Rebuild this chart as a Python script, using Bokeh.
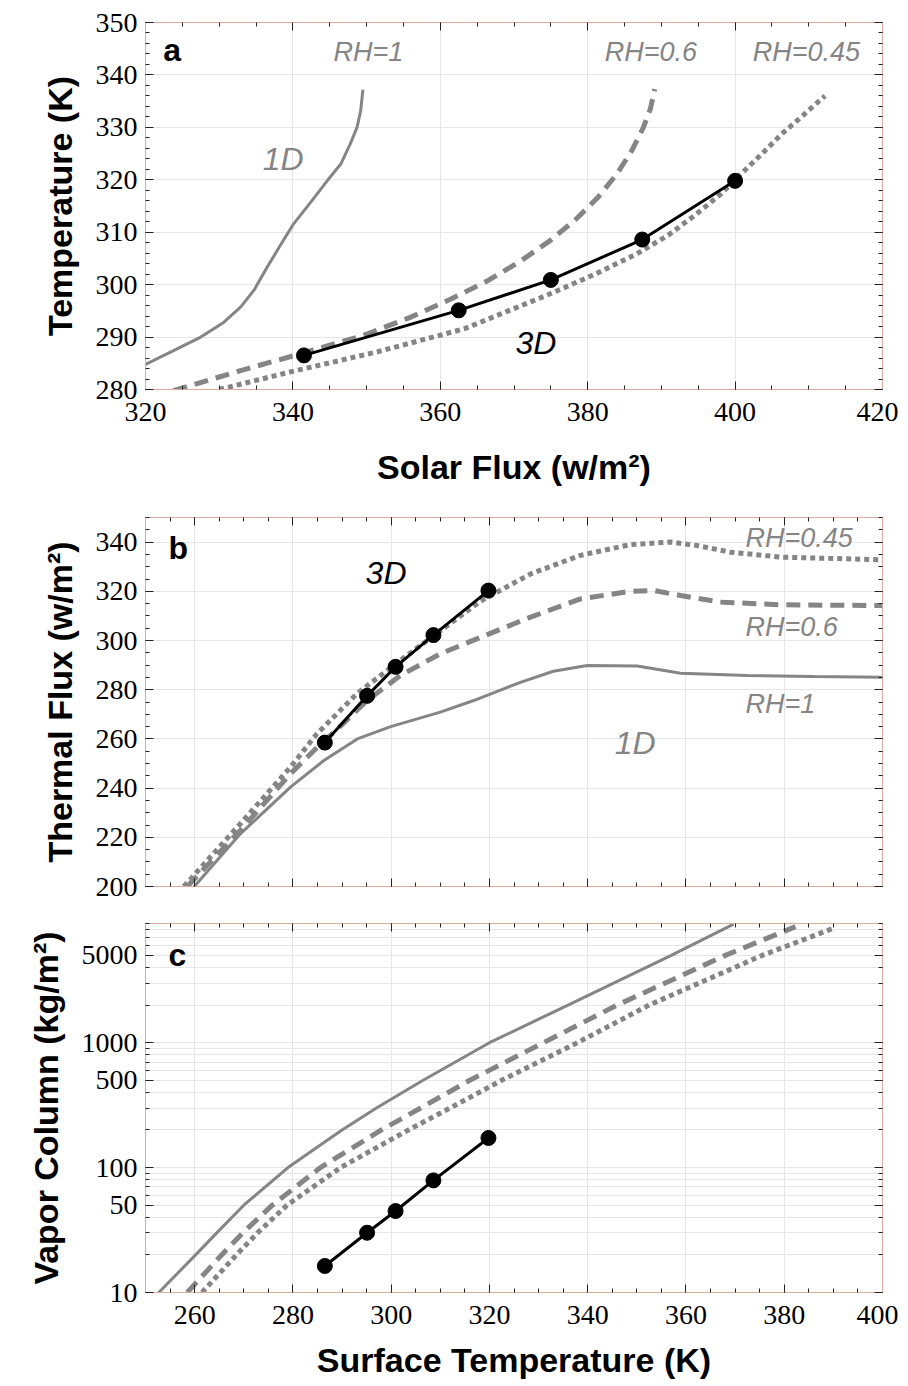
from bokeh.plotting import figure
from bokeh.layouts import column
from bokeh.models import (Range1d, LinearAxis, LogAxis, FixedTicker, Label,
                          NumeralTickFormatter, CustomJSTickFormatter)
from bokeh.embed import file_html
from bokeh.resources import INLINE

# ---------------- data ----------------
# Panel a: surface temperature vs solar flux
a_rh1_flux = [320.0, 323.8, 327.5, 330.6, 332.9, 334.7, 336.5, 338.3, 340.1, 342.4, 344.7, 346.5, 347.8, 348.7, 349.2, 349.5]
a_rh1_temp = [284.8, 287.4, 290.0, 292.8, 295.7, 298.9, 303.3, 307.5, 311.6, 315.7, 319.9, 323.0, 326.9, 330.0, 333.2, 337.2]
a_rh06_flux = [323.8, 332.9, 341.0, 349.5, 356.0, 361.5, 366.5, 371.0, 375.0, 378.5, 381.5, 384.0, 386.0, 387.5, 388.5, 389.1]
a_rh06_temp = [279.8, 283.6, 286.8, 290.3, 293.8, 297.3, 300.8, 304.6, 308.5, 312.6, 316.8, 321.2, 325.6, 329.8, 333.5, 337.3]
a_rh045_flux = [330.0, 339.8, 351.5, 363.3, 375.0, 381.0, 386.7, 391.0, 394.6, 398.0, 400.8, 403.6, 406.3, 409.3, 412.2]
a_rh045_temp = [280.0, 283.4, 287.2, 291.6, 298.3, 302.0, 305.9, 309.5, 313.3, 317.2, 321.1, 324.9, 328.7, 332.4, 336.0]
flux_3d = [341.5, 362.5, 375.0, 387.4, 400.0]
temp_3d = [286.5, 295.1, 300.9, 308.6, 319.8]

# Panel b: thermal flux vs surface temperature
b_rh1_temp = [259.8, 269.3, 279.5, 286.3, 293.1, 299.9, 310.0, 316.8, 326.3, 333.0, 339.9, 350.1, 358.9, 372.5, 386.0, 400.0]
b_rh1_flux = [199.7, 221.4, 240.4, 251.2, 260.0, 265.0, 270.9, 275.6, 283.0, 287.5, 289.8, 289.6, 286.7, 285.8, 285.4, 285.1]
b_rh06_temp = [258.5, 269.3, 279.5, 284.3, 290.0, 295.1, 301.9, 310.0, 318.2, 325.0, 328.4, 338.5, 348.7, 353.5, 358.9, 367.0, 379.2, 400.0]
b_rh06_flux = [200.0, 222.8, 245.8, 255.3, 265.8, 275.6, 285.8, 294.6, 301.3, 306.8, 309.5, 316.9, 320.0, 320.3, 318.3, 315.6, 314.5, 314.2]
b_rh045_temp = [257.8, 269.3, 279.5, 284.9, 293.1, 301.9, 308.7, 318.2, 328.4, 338.5, 348.7, 356.9, 362.3, 369.1, 379.2, 400.0]
b_rh045_flux = [200.0, 225.5, 248.5, 262.1, 278.5, 292.0, 302.0, 316.0, 327.1, 334.6, 339.0, 340.0, 338.6, 335.9, 333.9, 332.8]
thermal_3d = [258.5, 277.5, 289.3, 302.2, 320.3]

# Panel c: vapor column vs surface temperature
c_rh1_temp = [252.7, 260.2, 264.5, 270.0, 279.0, 290.0, 297.0, 306.5, 320.0, 336.0, 357.0, 369.7]
c_rh1_vap = [10.0, 20.0, 30.0, 50.0, 100.0, 200.0, 300.0, 500.0, 1000.0, 2000.0, 5000.0, 8900.0]
c_rh06_temp = [258.5, 265.5, 269.8, 275.8, 285.6, 298.0, 306.0, 316.0, 331.0, 346.0, 368.0, 382.3]
c_rh06_vap = [10.0, 20.0, 30.0, 50.0, 100.0, 200.0, 300.0, 500.0, 1000.0, 2000.0, 5000.0, 8500.0]
c_rh045_temp = [261.5, 268.5, 272.8, 278.8, 289.7, 303.5, 312.0, 322.5, 337.9, 352.5, 375.5, 390.4]
c_rh045_vap = [10.0, 20.0, 30.0, 50.0, 100.0, 200.0, 300.0, 500.0, 1000.0, 2000.0, 5000.0, 8350.0]
vapor_3d = [16.3, 30.1, 44.9, 79.0, 172.6]

# ticks
a_xticks = [320, 340, 360, 380, 400, 420]
a_yticks = [280, 290, 300, 310, 320, 330, 340, 350]
bc_xticks = [260, 280, 300, 320, 340, 360, 380, 400]
b_yticks = [200, 220, 240, 260, 280, 300, 320, 340]
c_yticks = [10, 50, 100, 500, 1000, 5000]

# ---------------- style ----------------
GRAY = "#858585"
FRAME = "#d9aca2"
GRID = "#e6e6e6"
TICKF = "Liberation Serif"
TITLEF = "Liberation Sans"


def lin_minor(lo, hi, step):
    out = []
    v = lo
    while v <= hi + 1e-9:
        out.append(round(v, 6))
        v += step
    return out


def log_minor():
    out = []
    for d in [10, 100, 1000]:
        for k in range(1, 10):
            out.append(d * k)
    return out


def style_axis(ax, labels=True, title=None):
    ax.major_tick_in = 8
    ax.major_tick_out = 0
    ax.minor_tick_in = 4
    ax.minor_tick_out = 0
    ax.major_tick_line_color = "#222222"
    ax.minor_tick_line_color = "#222222"
    ax.axis_line_color = FRAME
    if labels:
        ax.major_label_text_font = TICKF
        ax.major_label_text_font_size = "28px"
        ax.major_label_text_color = "black"
        ax.major_label_standoff = 8
    else:
        ax.formatter = CustomJSTickFormatter(code="return ''")
        ax.major_label_text_font_size = "1px"
        ax.major_label_standoff = 0
    if title:
        ax.axis_label = title
        ax.axis_label_text_font = TITLEF
        ax.axis_label_text_font_style = "bold"
        ax.axis_label_text_font_size = "34px"
        ax.axis_label_text_color = "black"
        ax.axis_label_standoff = 14


def make_fig(h, bt, bb, xr, yr, log=False):
    p = figure(width=898, height=h, x_range=xr, y_range=yr,
               y_axis_type="log" if log else "linear",
               output_backend="svg", toolbar_location=None,
               min_border_left=145, min_border_right=16,
               min_border_top=bt, min_border_bottom=bb)
    p.outline_line_color = FRAME
    p.outline_line_width = 1
    p.background_fill_color = "white"
    p.border_fill_color = "white"
    p.xgrid.grid_line_color = GRID
    p.ygrid.grid_line_color = GRID
    return p


def add_mirrors(p, xt, xminor, yt, yminor, log=False):
    top = LinearAxis(ticker=FixedTicker(ticks=xt, minor_ticks=xminor))
    style_axis(top, labels=False)
    p.add_layout(top, "above")
    if log:
        right = LogAxis(ticker=FixedTicker(ticks=yt, minor_ticks=yminor))
    else:
        right = LinearAxis(ticker=FixedTicker(ticks=yt, minor_ticks=yminor))
    style_axis(right, labels=False)
    p.add_layout(right, "right")


def label(p, x, y, text, size, color, style="italic"):
    p.add_layout(Label(x=x, y=y, text=text, text_font=TITLEF, text_font_style=style,
                       text_font_size=size, text_color=color,
                       text_baseline="middle", text_align="left"))


def draw(p, x1, y1, x2, y2, x3, y3, x4, y4):
    p.line(x1, y1, line_color=GRAY, line_width=3)
    p.line(x2, y2, line_color=GRAY, line_width=5, line_dash="14 8")
    p.line(x3, y3, line_color=GRAY, line_width=5, line_dash="5 4")
    p.line(x4, y4, line_color="black", line_width=3)
    p.scatter(x4, y4, size=15, color="black")


# ---------------- panel a ----------------
pa = make_fig(497, 22, 108, Range1d(320, 420), Range1d(280, 350))
pa.xaxis.ticker = FixedTicker(ticks=a_xticks, minor_ticks=lin_minor(320, 420, 5))
pa.yaxis.ticker = FixedTicker(ticks=a_yticks, minor_ticks=lin_minor(280, 350, 2))
style_axis(pa.xaxis[0], True, "Solar Flux (w/m²)")
style_axis(pa.yaxis[0], True, "Temperature (K)")
pa.xaxis[0].major_label_standoff = 13
pa.xaxis[0].axis_label_standoff = 24
add_mirrors(pa, a_xticks, lin_minor(320, 420, 5), a_yticks, lin_minor(280, 350, 2))

draw(pa, a_rh1_flux, a_rh1_temp, a_rh06_flux, a_rh06_temp,
     a_rh045_flux, a_rh045_temp, flux_3d, temp_3d)

label(pa, 322.4, 344.7, "a", "32px", "black", "bold")
label(pa, 345.5, 344.3, "RH=1", "27px", GRAY)
label(pa, 382.3, 344.3, "RH=0.6", "27px", GRAY)
label(pa, 402.4, 344.3, "RH=0.45", "27px", GRAY)
label(pa, 335.9, 324.0, "1D", "32px", GRAY)
label(pa, 370.2, 288.8, "3D", "32px", "black")

# ---------------- panel b ----------------
pb = make_fig(408, 20, 19, Range1d(250, 400), Range1d(200, 350))
pb.xaxis.ticker = FixedTicker(ticks=bc_xticks, minor_ticks=lin_minor(250, 400, 5))
pb.yaxis.ticker = FixedTicker(ticks=b_yticks, minor_ticks=lin_minor(200, 350, 5))
style_axis(pb.xaxis[0], False)
style_axis(pb.yaxis[0], True, "Thermal Flux (w/m²)")
add_mirrors(pb, bc_xticks, lin_minor(250, 400, 5), b_yticks, lin_minor(200, 350, 5))

draw(pb, b_rh1_temp, b_rh1_flux, b_rh06_temp, b_rh06_flux,
     b_rh045_temp, b_rh045_flux, temp_3d, thermal_3d)

label(pb, 254.7, 337.4, "b", "32px", "black", "bold")
label(pb, 294.8, 327.6, "3D", "32px", "black")
label(pb, 372.1, 341.5, "RH=0.45", "27px", GRAY)
label(pb, 372.1, 305.3, "RH=0.6", "27px", GRAY)
label(pb, 372.1, 274.0, "RH=1", "27px", GRAY)
label(pb, 345.5, 258.5, "1D", "32px", GRAY)

# ---------------- panel c ----------------
pc = make_fig(478, 18, 91, Range1d(250, 400), Range1d(10, 9000), log=True)
pc.xaxis.ticker = FixedTicker(ticks=bc_xticks, minor_ticks=lin_minor(250, 400, 5))
pc.yaxis.ticker = FixedTicker(ticks=c_yticks, minor_ticks=log_minor())
style_axis(pc.xaxis[0], True, "Surface Temperature (K)")
style_axis(pc.yaxis[0], True, "Vapor Column (kg/m²)")
pc.yaxis[0].formatter = NumeralTickFormatter(format="0")
pc.xaxis[0].major_label_standoff = 13
pc.xaxis[0].axis_label_standoff = 14
pc.ygrid.minor_grid_line_color = GRID
add_mirrors(pc, bc_xticks, lin_minor(250, 400, 5), c_yticks, log_minor(), log=True)

draw(pc, c_rh1_temp, c_rh1_vap, c_rh06_temp, c_rh06_vap,
     c_rh045_temp, c_rh045_vap, temp_3d, vapor_3d)

label(pc, 254.7, 5050, "c", "32px", "black", "bold")

layout = column(pa, pb, pc)
open("out.html", "w").write(file_html(layout, INLINE))
